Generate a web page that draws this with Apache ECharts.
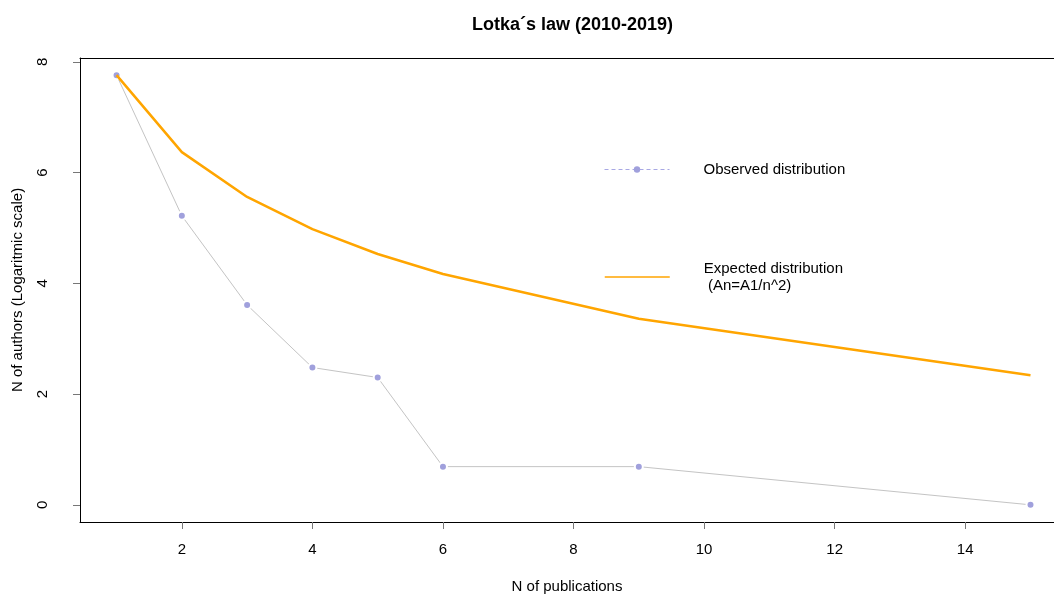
<!DOCTYPE html>
<html>
<head>
<meta charset="utf-8">
<script src="https://cdn.jsdelivr.net/npm/echarts@6/dist/echarts.min.js"></script>
<style>html,body{margin:0;padding:0;background:#fff}#c{width:1054px;height:594px}</style>
</head>
<body>
<div id="c"></div>
<script>
var publications = [1, 2, 3, 4, 5, 6, 9, 15];
var observed = [7.76, 5.22, 3.61, 2.48, 2.30, 0.69, 0.69, 0];
var expected = [7.76, 6.37, 5.56, 4.98, 4.53, 4.17, 3.36, 2.34];
var xTicks = [2, 4, 6, 8, 10, 12, 14];
var yTicks = [0, 2, 4, 6, 8];
var titleText = 'Lotka\u00B4s law (2010-2019)';
var xName = 'N of publications';
var yName = 'N of authors (Logaritmic scale)';
var obsName = 'Observed distribution';
var expName = 'Expected distribution\n (An=A1/n^2)';

function pairs(xs, ys) { return xs.map(function (x, i) { return [x, ys[i]]; }); }

var FONT = '"Liberation Sans", Arial, sans-serif';
var chart = echarts.init(document.getElementById('c'), null, {renderer: 'canvas'});
chart.setOption({
  animation: false,
  backgroundColor: '#fff',
  textStyle: {fontFamily: FONT},
  title: {
    text: titleText, left: 467, top: 11,
    textStyle: {fontFamily: FONT, fontWeight: 'bold', fontSize: 18, color: '#000'}
  },
  grid: {left: 80, top: 58, right: 0, height: 464, show: false, outerBoundsMode: 'none', containLabel: false},
  xAxis: [{
    type: 'value', min: 0.44, max: 15.36,
    name: xName, nameLocation: 'middle', nameGap: 57,
    nameTextStyle: {fontFamily: FONT, fontSize: 15, color: '#000'},
    axisLine: {show: true, onZero: false, lineStyle: {color: '#000', width: 1}},
    splitLine: {show: false},
    axisTick: {show: true, length: 7, lineStyle: {color: '#777', width: 1}, customValues: xTicks},
    axisLabel: {fontFamily: FONT, fontSize: 15, color: '#000', margin: 20, customValues: xTicks}
  }, {
    type: 'value', min: 0.44, max: 15.36, position: 'top',
    axisLine: {show: true, onZero: false, lineStyle: {color: '#000', width: 1}},
    axisTick: {show: false}, axisLabel: {show: false}, splitLine: {show: false}
  }],
  yAxis: {
    type: 'value', min: -0.31, max: 8.07,
    name: yName, nameLocation: 'middle', nameGap: 55, nameRotate: 90,
    nameTextStyle: {fontFamily: FONT, fontSize: 15, color: '#000'},
    axisLine: {show: true, onZero: false, lineStyle: {color: '#000', width: 1}},
    splitLine: {show: false},
    axisTick: {show: true, length: 7, lineStyle: {color: '#777', width: 1}, customValues: yTicks},
    axisLabel: {fontFamily: FONT, fontSize: 15, color: '#000', margin: 30, rotate: 90, customValues: yTicks}
  },
  legend: [
    {
      left: 599, top: 157, itemWidth: 65, itemHeight: 8,
      data: [{name: obsName,
        itemStyle: {color: '#a0a0dc', borderWidth: 0},
        lineStyle: {color: '#a8a8e4', type: [4, 3], width: 1}}],
      textStyle: {fontFamily: FONT, fontSize: 15, color: '#000', padding: [0, 0, 0, 29]},
      selectedMode: false
    },
    {
      left: 599, top: 255, itemWidth: 65, itemHeight: 8,
      data: [{name: expName,
        itemStyle: {opacity: 0},
        lineStyle: {color: '#FFA500', width: 1.5}}],
      textStyle: {fontFamily: FONT, fontSize: 15, color: '#000', padding: [0, 0, 0, 29], lineHeight: 17},
      selectedMode: false
    }
  ],
  series: [
    {
      name: obsName, type: 'line', data: pairs(publications, observed),
      lineStyle: {color: '#c4c4c4', width: 1},
      symbol: 'circle', symbolSize: 8,
      itemStyle: {color: '#a0a0dc', borderColor: '#fff', borderWidth: 2},
      z: 2
    },
    {
      name: expName, type: 'line', data: pairs(publications, expected),
      lineStyle: {color: '#FFA500', width: 2.5},
      showSymbol: false, symbol: 'none',
      itemStyle: {color: '#FFA500'},
      z: 3
    }
  ]
});
</script>
</body>
</html>
